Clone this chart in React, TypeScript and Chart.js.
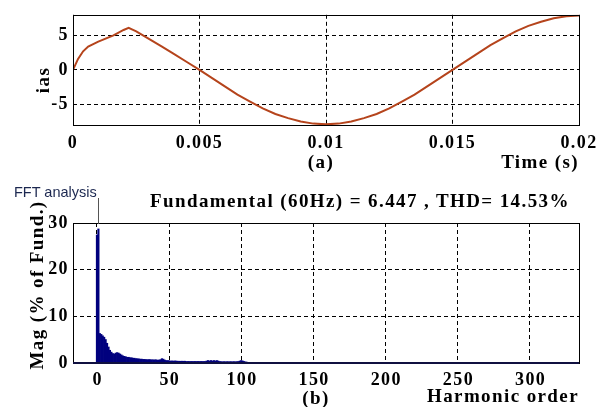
import React, { useEffect, useRef } from 'react';
import { Chart, registerables } from 'chart.js';

Chart.register(...registerables);

// ---- (a) phase current waveform ----
const TIME = [0, 0.0002, 0.0004, 0.0006, 0.001, 0.0016, 0.002, 0.0022, 0.0025, 0.003, 0.0035, 0.004, 0.0045, 0.005, 0.0055, 0.006, 0.0065, 0.007, 0.0075, 0.008, 0.0085, 0.009, 0.0095, 0.01, 0.0105, 0.011, 0.0115, 0.012, 0.0125, 0.013, 0.0135, 0.014, 0.0145, 0.015, 0.0155, 0.016, 0.0165, 0.017, 0.0175, 0.018, 0.0185, 0.019, 0.0195, 0.02];
const IAS = [0, 1.6, 2.7, 3.4, 4.1, 5.0, 5.8, 6.1, 5.6, 4.5, 3.4, 2.3, 1.15, 0, -1.2, -2.4, -3.6, -4.6, -5.6, -6.4, -7.0, -7.5, -7.8, -7.9, -7.8, -7.5, -7.0, -6.4, -5.6, -4.6, -3.6, -2.4, -1.2, 0, 1.2, 2.4, 3.6, 4.6, 5.6, 6.4, 7.0, 7.5, 7.8, 7.9];
const TIME_TICKS = [0, 0.005, 0.01, 0.015, 0.02];
const IAS_TICKS = [-5, 0, 5];

// ---- (b) FFT spectrum, harmonic order 0..110 ----
const MAG = [
  27.5, 28.8, 6.4, 6.2, 5.9, 5.6, 5.1, 4.3, 3.5, 2.8, 2.4,
  2.1, 2.0, 2.2, 2.3, 2.2, 2.0, 1.8, 1.6, 1.5, 1.4,
  1.3, 1.3, 1.2, 1.2, 1.1, 1.1, 1.0, 1.0, 0.95, 0.9,
  0.9, 0.85, 0.85, 0.8, 0.8, 0.8, 0.8, 0.75, 0.75, 0.75,
  0.75, 0.7, 0.7, 0.8, 1.0, 0.9, 0.7, 0.6, 0.6, 0.55,
  0.5, 0.5, 0.5, 0.5, 0.5, 0.45, 0.45, 0.45, 0.45, 0.45,
  0.45, 0.4, 0.4, 0.4, 0.4, 0.4, 0.4, 0.4, 0.4, 0.4,
  0.4, 0.4, 0.4, 0.4, 0.4, 0.5, 0.6, 0.5, 0.6, 0.5,
  0.6, 0.5, 0.6, 0.5, 0.4, 0.35, 0.35, 0.35, 0.35, 0.35,
  0.35, 0.35, 0.35, 0.35, 0.35, 0.35, 0.35, 0.4, 0.5, 0.6,
  0.5, 0.4, 0.3, 0.25, 0.2, 0.2, 0.15, 0.15, 0.1, 0.1,
];
const HARMONIC = MAG.map((_, i) => i);
const HARMONIC_TICKS = [0, 50, 100, 150, 200, 250, 300];
const MAG_TICKS = [0, 10, 20, 30];

const SERIF = "'Liberation Serif', 'Times New Roman', serif";
const SPACING = '1.4px';

const spacingPlugin = {
  id: 'spacing',
  beforeDraw(chart: any) {
    chart.ctx.letterSpacing = SPACING;
  },
};

const boxPlugin = {
  id: 'box',
  afterDraw(chart: any, _args: any, opts: any) {
    const { ctx, chartArea: a } = chart;
    ctx.save();
    ctx.strokeStyle = '#000';
    ctx.lineWidth = 1;
    ctx.setLineDash([]);
    ctx.strokeRect(Math.round(a.left) + 0.5, Math.round(a.top) + 0.5, Math.round(a.right - a.left), Math.round(a.bottom - a.top));
    if (opts && opts.bottomColor) {
      ctx.strokeStyle = opts.bottomColor;
      ctx.lineWidth = 2;
      ctx.beginPath();
      ctx.moveTo(a.left, Math.round(a.bottom));
      ctx.lineTo(a.right, Math.round(a.bottom));
      ctx.stroke();
    }
    // x tick labels for the spectrum axis, placed through the scale
    if (opts && opts.xLabels) {
      const xs = chart.scales.x;
      ctx.fillStyle = '#000';
      ctx.font = `bold 18px ${SERIF}`;
      ctx.letterSpacing = SPACING;
      ctx.textAlign = 'center';
      ctx.textBaseline = 'middle';
      for (const v of opts.xLabels as number[]) {
        ctx.fillText(String(v), xs.getPixelForValue(v) + 0.7, a.bottom + 17.5);
      }
    }
    ctx.restore();
  },
};

const tickFont = { family: SERIF, weight: 'bold' as const, size: 18 };

function gridOpts() {
  return { color: '#000', lineWidth: 1, drawTicks: false, offset: false };
}

export default function App() {
  const topRef = useRef<HTMLCanvasElement>(null);
  const botRef = useRef<HTMLCanvasElement>(null);

  useEffect(() => {
    const top = new Chart(topRef.current!, {
      type: 'line',
      data: {
        datasets: [
          {
            data: TIME.map((t, i) => ({ x: t, y: IAS[i] })),
            borderColor: '#b5441c',
            borderWidth: 2,
            pointRadius: 0,
            tension: 0,
          },
        ],
      },
      options: {
        animation: false,
        responsive: false,
        maintainAspectRatio: false,
        layout: { padding: { top: 9, right: 31, left: 0, bottom: 0 } },
        plugins: { legend: { display: false }, tooltip: { enabled: false }, box: {} } as any,
        scales: {
          x: {
            type: 'linear',
            min: 0,
            max: 0.02,
            afterBuildTicks: (s: any) => { s.ticks = TIME_TICKS.map((v) => ({ value: v })); },
            afterFit: (s: any) => { s.height = 55; },
            grid: gridOpts(),
            border: { display: false, dash: [4, 3] },
            ticks: { font: tickFont, color: '#000', padding: 8, maxRotation: 0, autoSkip: false, callback: (v: any) => String(v) },
            title: { display: true, text: 'Time (s)', align: 'end', color: '#000', font: { family: SERIF, weight: 'bold', size: 19, lineHeight: 1 }, padding: { top: 0, bottom: 7.5 } },
          },
          y: {
            type: 'linear',
            min: -8,
            max: 8,
            afterBuildTicks: (s: any) => { s.ticks = IAS_TICKS.map((v) => ({ value: v })); },
            afterFit: (s: any) => { s.width = 73; },
            grid: gridOpts(),
            border: { display: false, dash: [4, 3] },
            ticks: { font: tickFont, color: '#000', padding: 4, callback: (v: any) => String(v) },
          },
        },
      } as any,
      plugins: [spacingPlugin, boxPlugin],
    });

    const bot = new Chart(botRef.current!, {
      type: 'bar',
      data: {
        datasets: [
          {
            data: HARMONIC.map((h, i) => ({ x: h, y: MAG[i] })),
            backgroundColor: '#00007e',
            borderWidth: 0,
            barPercentage: 1.5,
            categoryPercentage: 1,
          },
        ],
      },
      options: {
        animation: false,
        responsive: false,
        maintainAspectRatio: false,
        layout: { padding: { top: 38, right: 31, left: 0, bottom: 0 } },
        plugins: { legend: { display: false }, tooltip: { enabled: false }, box: { bottomColor: '#101040', xLabels: HARMONIC_TICKS } } as any,
        scales: {
          x: {
            type: 'linear',
            offset: false,
            min: -16.6,
            max: 334,
            afterBuildTicks: (s: any) => { s.ticks = HARMONIC_TICKS.map((v) => ({ value: v })); },
            afterFit: (s: any) => { s.height = 44; },
            grid: gridOpts(),
            border: { display: false, dash: [4, 3] },
            ticks: { display: false },
            title: { display: true, text: 'Harmonic order', align: 'end', color: '#000', font: { family: SERIF, weight: 'bold', size: 19, lineHeight: 1 }, padding: { top: 0, bottom: 0 } },
          },
          y: {
            type: 'linear',
            min: 0,
            max: 30,
            afterBuildTicks: (s: any) => { s.ticks = MAG_TICKS.map((v) => ({ value: v })); },
            afterFit: (s: any) => { s.width = 73; },
            grid: gridOpts(),
            border: { display: false, dash: [4, 3] },
            ticks: { font: tickFont, color: '#000', padding: 4, callback: (v: any) => String(v) },
          },
        },
      } as any,
      plugins: [spacingPlugin, boxPlugin],
    });

    return () => {
      top.destroy();
      bot.destroy();
    };
  }, []);

  const label: React.CSSProperties = {
    position: 'absolute',
    fontFamily: SERIF,
    fontWeight: 'bold',
    fontSize: 19,
    lineHeight: 1,
    letterSpacing: SPACING,
    whiteSpace: 'nowrap',
    color: '#000',
  };

  return (
    <div style={{ position: 'fixed', left: 0, top: 0, width: 610, height: 407, background: '#fff', overflow: 'hidden' }}>
      <canvas ref={topRef} width={610} height={180} style={{ position: 'absolute', left: 0, top: 0 }} />
      <canvas ref={botRef} width={610} height={222} style={{ position: 'absolute', left: 0, top: 185 }} />
      <div style={{ ...label, left: 42, top: 80, transform: 'translate(-50%, -50%) rotate(-90deg)' }}>ias</div>
      <div style={{ ...label, left: 321, top: 161, transform: 'translate(-50%, -50%)' }}>(a)</div>
      <div style={{ ...label, left: 36, top: 285, transform: 'translate(-50%, -50%) rotate(-90deg)' }}>Mag (% of Fund.)</div>
      <div style={{ ...label, left: 150, top: 200, transform: 'translateY(-50%)' }}>Fundamental (60Hz) = 6.447 , THD= 14.53%</div>
      <div style={{ ...label, left: 316, top: 397, transform: 'translate(-50%, -50%)' }}>(b)</div>
      <div style={{ position: 'absolute', left: 14, top: 192, transform: 'translateY(-50%)', fontFamily: "'Liberation Sans', Arial, sans-serif", fontSize: 14.5, lineHeight: 1, color: '#1c2850', whiteSpace: 'nowrap' }}>FFT analysis</div>
      <div style={{ position: 'absolute', left: 98, top: 198, width: 1, height: 26, background: '#555' }} />
    </div>
  );
}
